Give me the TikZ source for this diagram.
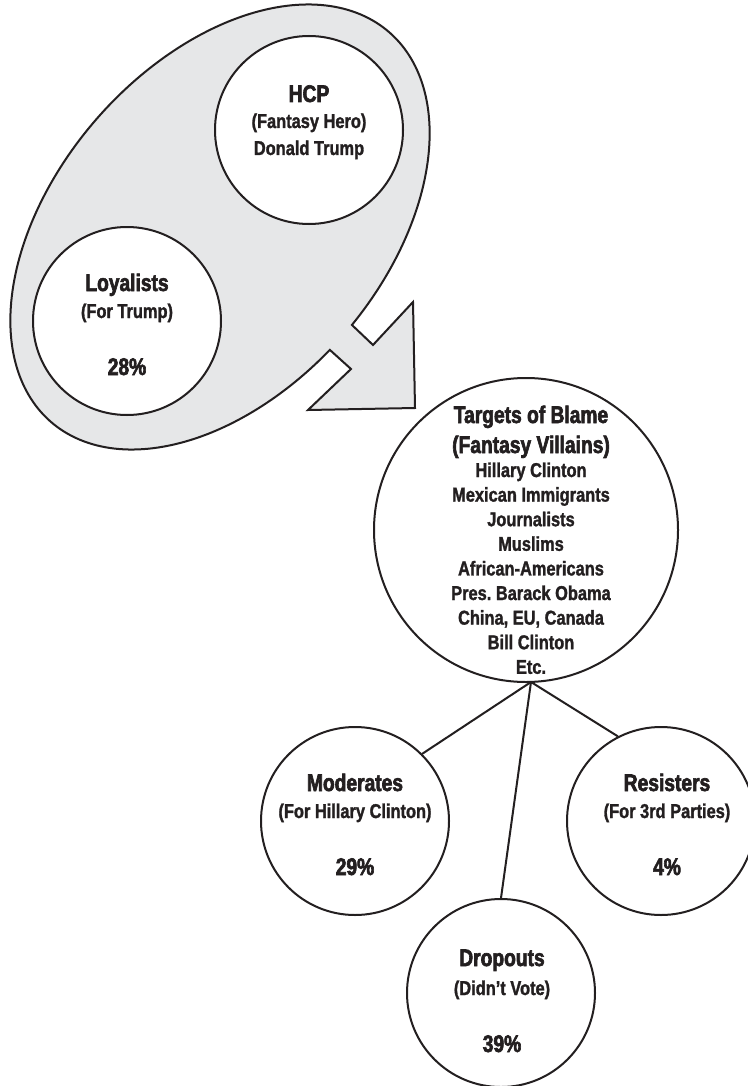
\documentclass[tikz,border=0pt]{standalone}
\usepackage{fontspec}
\setmainfont{Liberation Sans}[FakeStretch=0.82]
\newfontfamily\ttlfont{Liberation Sans}[FakeStretch=0.80, BoldFeatures={FakeBold=2.6}]
\newfontfamily\subfont{Liberation Sans}[FakeStretch=0.82, BoldFeatures={FakeBold=1.4}]
\definecolor{ink}{HTML}{231F20}
\definecolor{band}{HTML}{E6E7E8}
\frenchspacing
\begin{document}
\begin{tikzpicture}[x=1pt,y=-1pt,
  ring/.style={circle, draw=ink, line width=2pt, fill=white, inner sep=0pt, minimum size=#1},
  ttl/.style={anchor=base, font=\ttlfont\fontsize{24}{28}\selectfont\bfseries, text=ink, inner sep=0pt},
  sub/.style={anchor=base, font=\subfont\fontsize{20}{24}\selectfont\bfseries\frenchspacing, text=ink, inner sep=0pt},
  link/.style={draw=ink, line width=2pt}]
\useasboundingbox (0,0) rectangle (747,1086);
\fill[white] (0,0) rectangle (747,1086);
% grey oval turning into an arrow
\filldraw[fill=band, draw=ink, line width=2pt, line join=miter]
  plot[domain=94.6:447.2, samples=240, variable=\t]
    ({220+169.2*cos(\t)+123.8*sin(\t)}, {227-194.8*cos(\t)+107.6*sin(\t)})
  -- (373,345) -- (413,302) -- (415,408) -- (308,410) -- (351,369) -- cycle;
% connectors
\coordinate (hub) at (531,682);
\node[ring=188pt] (mod) at (355,821) {};
\node[ring=188pt] (res) at (661,821) {};
\node[ring=188pt] (drop) at (501,993) {};
\draw[link] (hub) -- (mod.45);
\draw[link] (hub) -- (drop.90);
\draw[link] (hub) -- (res.117);
% circles
\node[ring=188pt] (hcp) at (309,130) {};
\node[ring=188pt] (loy) at (127,321) {};
\node[ring=304pt] (tgt) at (526,530) {};
% texts
\node[ttl] (hcpA) at (309,102) {HCP};
\node[sub] (hcpB) at (309,128) {(Fantasy Hero)};
\node[sub] (hcpC) at (309,155) {Donald Trump};
\node[ttl] (loyA) at (127,291) {Loyalists};
\node[sub] (loyB) at (127,318) {(For Trump)};
\node[ttl] (loyC) at (127,375) {28\%};
\node[ttl] (tgtA) at (531,423) {Targets of Blame};
\node[ttl] (tgtB) at (531,453) {(Fantasy Villains)};
\node[sub] (tgt1) at (531,477) {Hillary Clinton};
\node[sub] (tgt2) at (531,501.6) {Mexican Immigrants};
\node[sub] (tgt3) at (531,526.2) {Journalists};
\node[sub] (tgt4) at (531,550.8) {Muslims};
\node[sub] (tgt5) at (531,575.4) {African-Americans};
\node[sub] (tgt6) at (531,600) {Pres. Barack Obama};
\node[sub] (tgt7) at (531,624.6) {China, EU, Canada};
\node[sub] (tgt8) at (531,649.2) {Bill Clinton};
\node[sub] (tgt9) at (531,673.8) {Etc.};
\node[ttl] (modA) at (355,791) {Moderates};
\node[sub] (modB) at (355,818) {(For Hillary Clinton)};
\node[ttl] (modC) at (355,875) {29\%};
\node[ttl] (resA) at (667,791) {Resisters};
\node[sub] (resB) at (667,818) {(For 3rd Parties)};
\node[ttl] (resC) at (667,875) {4\%};
\node[ttl] (dropA) at (502,966) {Dropouts};
\node[sub] (dropB) at (502,995) {(Didn’t Vote)};
\node[ttl] (dropC) at (502,1052) {39\%};
\end{tikzpicture}
\end{document}
